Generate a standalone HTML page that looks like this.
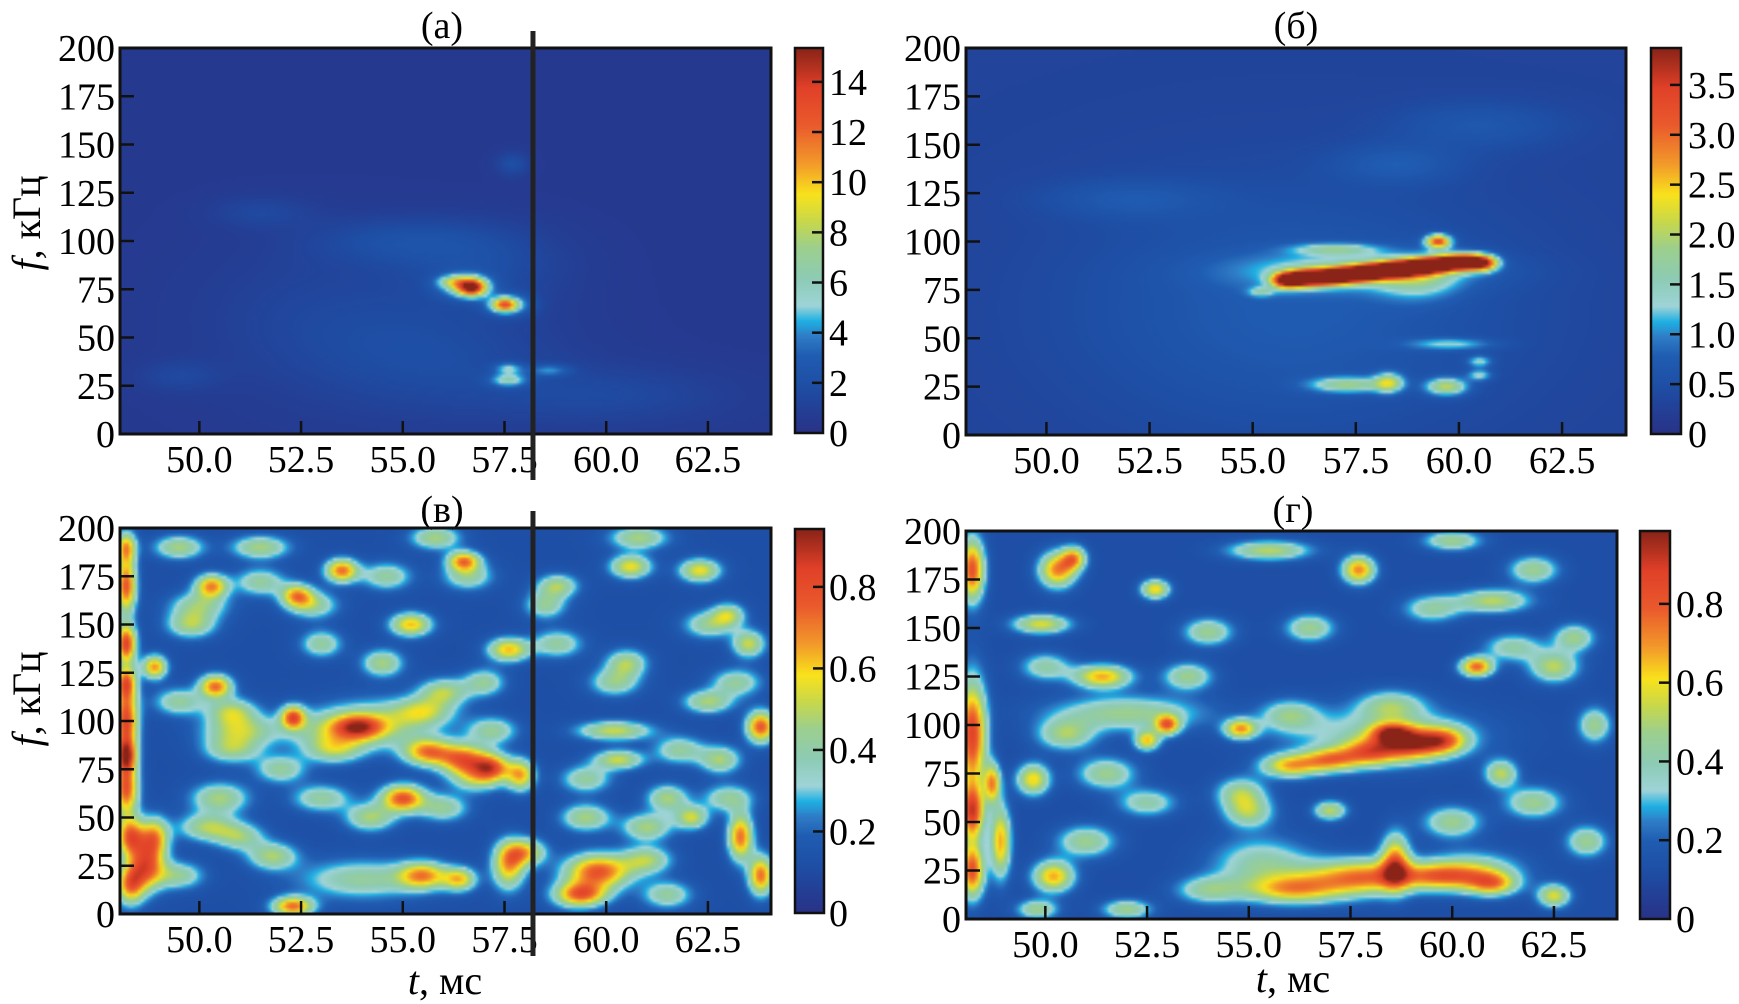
<!DOCTYPE html>
<html><head><meta charset="utf-8">
<style>
html,body{margin:0;padding:0;background:#fff;}
#root{position:relative;width:1739px;height:1004px;overflow:hidden;background:#fff;font-family:"Liberation Serif","DejaVu Serif",serif;}
canvas{position:absolute;display:block;}
svg{position:absolute;left:0;top:0;}
</style></head>
<body>
<div id="root">
<canvas id="cA"></canvas>
<canvas id="cB"></canvas>
<canvas id="cC"></canvas>
<canvas id="cD"></canvas>
<canvas id="bA"></canvas>
<canvas id="bB"></canvas>
<canvas id="bC"></canvas>
<canvas id="bD"></canvas>
<svg id="ov" width="1739" height="1004" font-family="Liberation Serif, DejaVu Serif, serif">
<text x="442" y="38" font-size="38" text-anchor="middle">(а)</text>
<text x="1296" y="38" font-size="38" text-anchor="middle">(б)</text>
<text x="442" y="522" font-size="38" text-anchor="middle">(в)</text>
<text x="1293" y="522" font-size="38" text-anchor="middle">(г)</text>
<text transform="translate(40,223) rotate(-90)" font-size="40" text-anchor="middle"><tspan font-style="italic">f</tspan>, кГц</text>
<text transform="translate(40,699) rotate(-90)" font-size="40" text-anchor="middle"><tspan font-style="italic">f</tspan>, кГц</text>
<text x="445" y="994" font-size="40" text-anchor="middle"><tspan font-style="italic">t</tspan>, мс</text>
<text x="1293" y="992" font-size="40" text-anchor="middle"><tspan font-style="italic">t</tspan>, мс</text>
</svg>
</div>
<script>
// ---- shared axis data ----
const xTicks=[50,52.5,55,57.5,60,62.5];
const xTickLabels=["50.0","52.5","55.0","57.5","60.0","62.5"];
const yTicks=[0,25,50,75,100,125,150,175,200];
const yTickLabels=["0","25","50","75","100","125","150","175","200"];
const cbTicksA=[0,2,4,6,8,10,12,14];
const cbLabelsA=["0","2","4","6","8","10","12","14"];
const cbTicksB=[0,0.5,1,1.5,2,2.5,3,3.5];
const cbLabelsB=["0","0.5","1.0","1.5","2.0","2.5","3.0","3.5"];
const cbTicksC=[0,0.2,0.4,0.6,0.8];
const cbLabelsC=["0","0.2","0.4","0.6","0.8"];
const cbTicksD=[0,0.2,0.4,0.6,0.8];
const cbLabelsD=["0","0.2","0.4","0.6","0.8"];
const markerTime=[58.2];

// ---- panel (а) blobs: time, freq, value, width-t, width-f ----
const aT=[56.7,56.5,57.5,57.6,56.2,57.6,57.6,58.6,55.0,57.0,56.0,60.0,57.7,51.5,49.5,53.0];
const aF=[76,77,67,67,79,28,34,33,100,88,40,20,140,115,30,60];
const aV=[11,5,8,4,3.5,4.5,3.5,2.8,1.3,1.2,1.1,1.0,1.4,0.9,0.9,0.8];
const aWT=[0.35,0.6,0.3,0.55,0.35,0.45,0.35,0.5,2.2,2.0,3.0,3.0,0.4,1.2,1.0,3];
const aWF=[4.5,6,3.5,5.5,3,3.5,3,3,12,20,30,15,6,8,8,40];
const aBase=0.5;

// ---- panel (б) blobs ----
const bT=[55.8,56.2,56.6,57.0,57.4,57.8,58.2,58.6,59.0,59.4,59.8,60.2,60.6,57.5,59.5,57.0,55.2,57.3,58.3,59.7,59.8,60.5,60.5,56.0,52.0,60.5,58.5,59.0];
const bF=[80,81,81.5,82,83,84,85,86,87,88,89,89.5,89,85,100,96,74,26,27,25,47,38,31,65,122,160,140,80];
const bV=[3.3,3.3,3.3,3.3,3.3,3.3,3.3,3.3,3.3,3.3,3.3,3.3,3.0,0.9,2.8,1.0,0.8,1.3,1.5,1.6,0.8,0.9,0.9,0.45,0.35,0.35,0.4,0.9];
const bWT=[0.35,0.35,0.35,0.35,0.35,0.35,0.35,0.35,0.35,0.35,0.35,0.35,0.35,2.8,0.3,1.0,0.3,0.9,0.35,0.5,1.0,0.3,0.3,5.0,2.0,2.0,1.5,1.0];
const bWF=[4,4,4,4,4,4,4,4,4,4,4,4,4,9,3.5,3,2.5,4,5,4.5,3,3,3,60,10,12,10,10];
const bBase=0.3;

// ---- panel (в) blobs ----
const cT=[48.2,48.2,48.2,48.2,48.3,48.3,48.7,48.9,55.6,56.5,57.2,57.9,53.9,52.3,53.5,54.5,59.8,57.6,58.0,55.5,56.4,54.0,52.3,50.3,53.5,56.5,52.4,55.2,57.6,50.4,48.9,60.6,62.3,63.8,60.2,60.3,63.3,63.8,62.1,50.5,51.0,52.0,49.8,54.5,56.0,58.5,61.0,62.5,60.5,59.5,61.5,63.0,50.2,51.8,53.0,55.0,57.0,59.5,61.0,62.8,49.5,51.5,55.8,60.8,63.5,58.8,54.2,50.8,50.0,51.5,52.8,54.6,56.6,49.5,50.8,53.3,55.5,57.2,59.5,61.8,63.2,62.5,60.2,58.8,56.0,53.0,51.0,49.5,56.8,55.0,59.2,61.5,63.0,48.2,48.2,48.2];
const cF=[170,140,100,65,40,15,25,40,84,80,76,72,97,102,95,100,22,25,32,20,18,18,4,170,178,183,165,150,137,118,128,180,178,97,95,80,40,20,50,60,95,75,150,130,115,160,45,110,130,10,60,155,45,30,140,60,120,50,28,80,190,190,195,195,140,170,50,105,160,172,160,175,175,110,85,85,105,95,70,85,120,150,120,140,55,60,40,20,70,60,10,10,60,190,120,82];
const cV=[0.65,0.7,0.7,0.65,0.6,0.55,0.6,0.5,0.55,0.6,0.55,0.5,0.4,0.6,0.3,0.25,0.65,0.5,0.45,0.5,0.45,0.3,0.6,0.55,0.6,0.55,0.5,0.5,0.5,0.6,0.55,0.45,0.45,0.65,0.4,0.4,0.6,0.6,0.4,0.35,0.35,0.3,0.35,0.35,0.35,0.3,0.35,0.35,0.35,0.35,0.35,0.35,0.35,0.35,0.3,0.35,0.3,0.35,0.35,0.35,0.35,0.35,0.35,0.35,0.4,0.35,0.35,0.35,0.3,0.3,0.3,0.3,0.3,0.3,0.3,0.3,0.3,0.3,0.3,0.3,0.3,0.3,0.3,0.3,0.3,0.3,0.3,0.3,0.3,0.3,0.3,0.3,0.3,0.5,0.5,0.5];
const cWT=[0.25,0.25,0.3,0.3,0.35,0.35,0.45,0.35,0.6,0.6,0.45,0.35,0.6,0.3,1.3,1.5,0.8,0.4,0.5,0.6,0.4,1.5,0.5,0.4,0.4,0.4,0.4,0.5,0.5,0.4,0.3,0.5,0.5,0.35,0.9,0.6,0.3,0.3,0.4,0.7,0.9,0.6,0.6,0.5,0.6,0.5,0.6,0.6,0.5,0.6,0.5,0.4,0.7,0.6,0.5,0.5,0.5,0.6,0.6,0.5,0.6,0.7,0.6,0.7,0.4,0.5,0.6,0.6,0.7,0.6,0.6,0.6,0.6,0.6,0.7,0.7,0.7,0.6,0.6,0.6,0.6,0.6,0.6,0.6,0.6,0.7,0.6,0.6,0.6,0.6,0.6,0.6,0.6,0.25,0.25,0.25];
const cWF=[14,10,18,14,10,10,12,10,7,8,7,8,6,6,10,12,9,12,7,7,6,10,5,6,6,5,6,6,6,6,6,6,6,8,5,5,12,10,6,8,8,7,7,7,7,7,7,6,7,6,7,6,7,7,7,7,7,7,7,7,6,6,6,6,7,6,7,7,7,7,7,7,7,7,7,7,7,7,7,7,7,7,7,7,7,7,7,7,7,7,7,7,7,8,8,8];
const cBase=0.12;

// ---- panel (г) blobs ----
const dT=[48.2,48.2,48.2,48.2,48.7,48.9,56.0,57.0,58.0,59.0,59.8,58.5,58.3,56.0,58.0,58.6,59.7,61.0,55.3,62.5,50.3,50.7,52.7,57.7,60.6,49.9,51.4,61.0,55.5,49.7,50.2,52.5,53.0,54.8,52.0,57.0,62.5,63.0,61.2,54.0,60.0,62.0,56.5,53.5,51.0,63.5,60.0,55.0,49.8,52.0,57.0,60.5,54.8,51.5,50.5,56.0,58.5,62.0,63.3,54.0,52.5,50.0,59.5,61.5];
const dF=[180,95,55,25,70,40,79,82,86,90,92,96,95,15,22,30,22,18,28,12,180,186,170,180,130,152,125,164,190,72,22,92,100,98,106,56,130,145,75,148,195,180,150,125,40,100,50,55,5,5,20,25,65,75,95,105,110,60,40,15,60,130,160,140];
const dV=[0.7,0.75,0.7,0.7,0.55,0.55,0.5,0.5,0.5,0.55,0.5,0.5,0.28,0.4,0.45,0.55,0.5,0.45,0.3,0.45,0.6,0.5,0.5,0.6,0.65,0.45,0.55,0.4,0.4,0.5,0.55,0.5,0.55,0.55,0.35,0.4,0.4,0.35,0.4,0.35,0.35,0.35,0.35,0.35,0.35,0.35,0.35,0.35,0.35,0.35,0.3,0.3,0.35,0.35,0.35,0.3,0.3,0.35,0.35,0.3,0.3,0.3,0.3,0.3];
const dWT=[0.3,0.35,0.3,0.3,0.2,0.25,0.7,0.7,0.7,0.7,0.6,0.5,2.3,1.1,1.1,0.35,1.1,0.6,1.2,0.4,0.45,0.3,0.35,0.4,0.4,0.7,0.7,0.9,1.0,0.4,0.5,0.3,0.3,0.4,1.8,0.4,0.6,0.5,0.4,0.6,0.7,0.6,0.6,0.6,0.7,0.4,0.7,0.6,0.5,0.6,1.2,1.2,0.6,0.7,0.7,0.7,0.8,0.7,0.5,0.8,0.7,0.6,0.7,0.7];
const dWF=[16,28,14,14,10,18,6,6,7,8,7,5,14,7,9,14,7,6,14,6,9,6,5,7,5,5,6,6,5,8,8,5,5,5,9,5,8,7,7,7,5,7,7,7,8,9,8,8,5,5,10,10,8,8,8,8,8,8,8,7,7,7,7,7];
const dBase=0.12;

// ---- colormap (printed jet) ----
const cmStops=[[0,[40,50,135]],[0.12,[30,78,165]],[0.2,[31,93,178]],[0.25,[47,124,198]],[0.29,[31,176,227]],[0.33,[159,212,216]],[0.40,[141,203,181]],[0.48,[156,207,142]],[0.55,[200,216,74]],[0.62,[249,226,28]],[0.70,[242,154,42]],[0.80,[234,90,44]],[0.90,[224,64,40]],[1.0,[138,36,24]]];
function cmap(v){
  v=Math.max(0,Math.min(1,v));
  for(let i=1;i<cmStops.length;i++){
    if(v<=cmStops[i][0]){
      const a=cmStops[i-1],b=cmStops[i];const k=(v-a[0])/(b[0]-a[0]);
      return [0,1,2].map(j=>Math.round(a[1][j]+(b[1][j]-a[1][j])*k));
    }
  }
  return cmStops[cmStops.length-1][1];
}
const T0=48.05,T1=64.05,F0=0,F1=200;
const svg=document.getElementById('ov');
const NS='http://www.w3.org/2000/svg';
function mk(tag,attrs){const e=document.createElementNS(NS,tag);for(const k in attrs)e.setAttribute(k,attrs[k]);svg.appendChild(e);return e;}

function drawPanel(id,cbid,P,T,F,V,WT,WF,base,vmax,cbT,cbL,cbLabelX,key){
  const sx=t=>P.x+(t-T0)/(T1-T0)*P.w;
  const sy=f=>P.y+P.h-(f-F0)/(F1-F0)*P.h;
  const cols=220,rows=130;
  const cv=document.getElementById(id);
  cv.width=cols;cv.height=rows;
  cv.style.left=P.x+'px';cv.style.top=P.y+'px';cv.style.width=P.w+'px';cv.style.height=P.h+'px';
  const ctx=cv.getContext('2d');const img=ctx.createImageData(cols,rows);
  for(let r=0;r<rows;r++){for(let c=0;c<cols;c++){
    const t=T0+(c+0.5)/cols*(T1-T0), f=F1-(r+0.5)/rows*(F1-F0);
    let v=base;
    for(let i=0;i<T.length;i++){
      const dt=(t-T[i])/WT[i],df=(f-F[i])/WF[i];
      v+=V[i]*Math.exp(-(dt*dt+df*df));
    }
    const col=cmap(v/vmax);const o=(r*cols+c)*4;
    img.data[o]=col[0];img.data[o+1]=col[1];img.data[o+2]=col[2];img.data[o+3]=255;
  }}
  ctx.putImageData(img,0,0);
  const cb=document.getElementById(cbid);
  cb.width=1;cb.height=256;
  cb.style.left=P.cb.x+'px';cb.style.top=P.cb.y+'px';cb.style.width=P.cb.w+'px';cb.style.height=P.cb.h+'px';
  const cc=cb.getContext('2d');const im2=cc.createImageData(1,256);
  for(let r=0;r<256;r++){const col=cmap(1-r/255);im2.data[r*4]=col[0];im2.data[r*4+1]=col[1];im2.data[r*4+2]=col[2];im2.data[r*4+3]=255;}
  cc.putImageData(im2,0,0);
  const fr=mk('rect',{x:P.x,y:P.y,width:P.w,height:P.h,fill:'none',stroke:'#111','stroke-width':3});
  
  
  const cf=mk('rect',{x:P.cb.x,y:P.cb.y,width:P.cb.w,height:P.cb.h,fill:'none',stroke:'#111','stroke-width':2.5});
  
  
  xTicks.forEach((tv,i)=>{
    const x=sx(tv);
    const l=mk('line',{x1:x,y1:P.y+P.h,x2:x,y2:P.y+P.h-13,stroke:'#111','stroke-width':2.5});
    
    
    const tx=mk('text',{x:x,y:P.y+P.h+38,'font-size':38,'text-anchor':'middle'});
    tx.textContent=xTickLabels[i];
    
    
  });
  yTicks.forEach((fv,i)=>{
    const y=sy(fv);
    const l=mk('line',{x1:P.x,y1:y,x2:P.x+14,y2:y,stroke:'#111','stroke-width':2.5});
    
    
    const tx=mk('text',{x:P.x-5,y:y+13,'font-size':38,'text-anchor':'end'});
    tx.textContent=yTickLabels[i];
    
    
  });
  cbT.forEach((cv2,i)=>{
    const y=P.cb.y+P.cb.h-cv2/vmax*P.cb.h;
    if(cv2>0){
      const l=mk('line',{x1:P.cb.x+P.cb.w,y1:y,x2:P.cb.x+P.cb.w-11,y2:y,stroke:'#111','stroke-width':2.5});
      
      
    }
    const tx=mk('text',{x:cbLabelX,y:y+13,'font-size':38,'text-anchor':'start'});
    tx.textContent=cbL[i];
    
    
  });
  return sx;
}
const PA={x:120,y:48,w:651,h:386,cb:{x:795,y:48,w:28,h:385}};
const PB={x:966,y:48,w:660,h:387,cb:{x:1651,y:48,w:30,h:386}};
const PC={x:120,y:528,w:651,h:386,cb:{x:795,y:529,w:29,h:384}};
const PD={x:966,y:531,w:651,h:388,cb:{x:1640,y:531,w:30,h:388}};
const sxA=drawPanel('cA','bA',PA,aT,aF,aV,aWT,aWF,aBase,15.35,cbTicksA,cbLabelsA,829,'a');
drawPanel('cB','bB',PB,bT,bF,bV,bWT,bWF,bBase,3.87,cbTicksB,cbLabelsB,1688,'b');
const sxC=drawPanel('cC','bC',PC,cT,cF,cV,cWT,cWF,cBase,0.942,cbTicksC,cbLabelsC,829,'v');
drawPanel('cD','bD',PD,dT,dF,dV,dWT,dWF,dBase,0.985,cbTicksD,cbLabelsD,1676,'g');
const m1=mk('line',{x1:sxA(markerTime[0]),y1:31,x2:sxA(markerTime[0]),y2:480,stroke:'#222','stroke-width':5});


const m2=mk('line',{x1:sxC(markerTime[0]),y1:511,x2:sxC(markerTime[0]),y2:956,stroke:'#222','stroke-width':5});


</script>
</body></html>
